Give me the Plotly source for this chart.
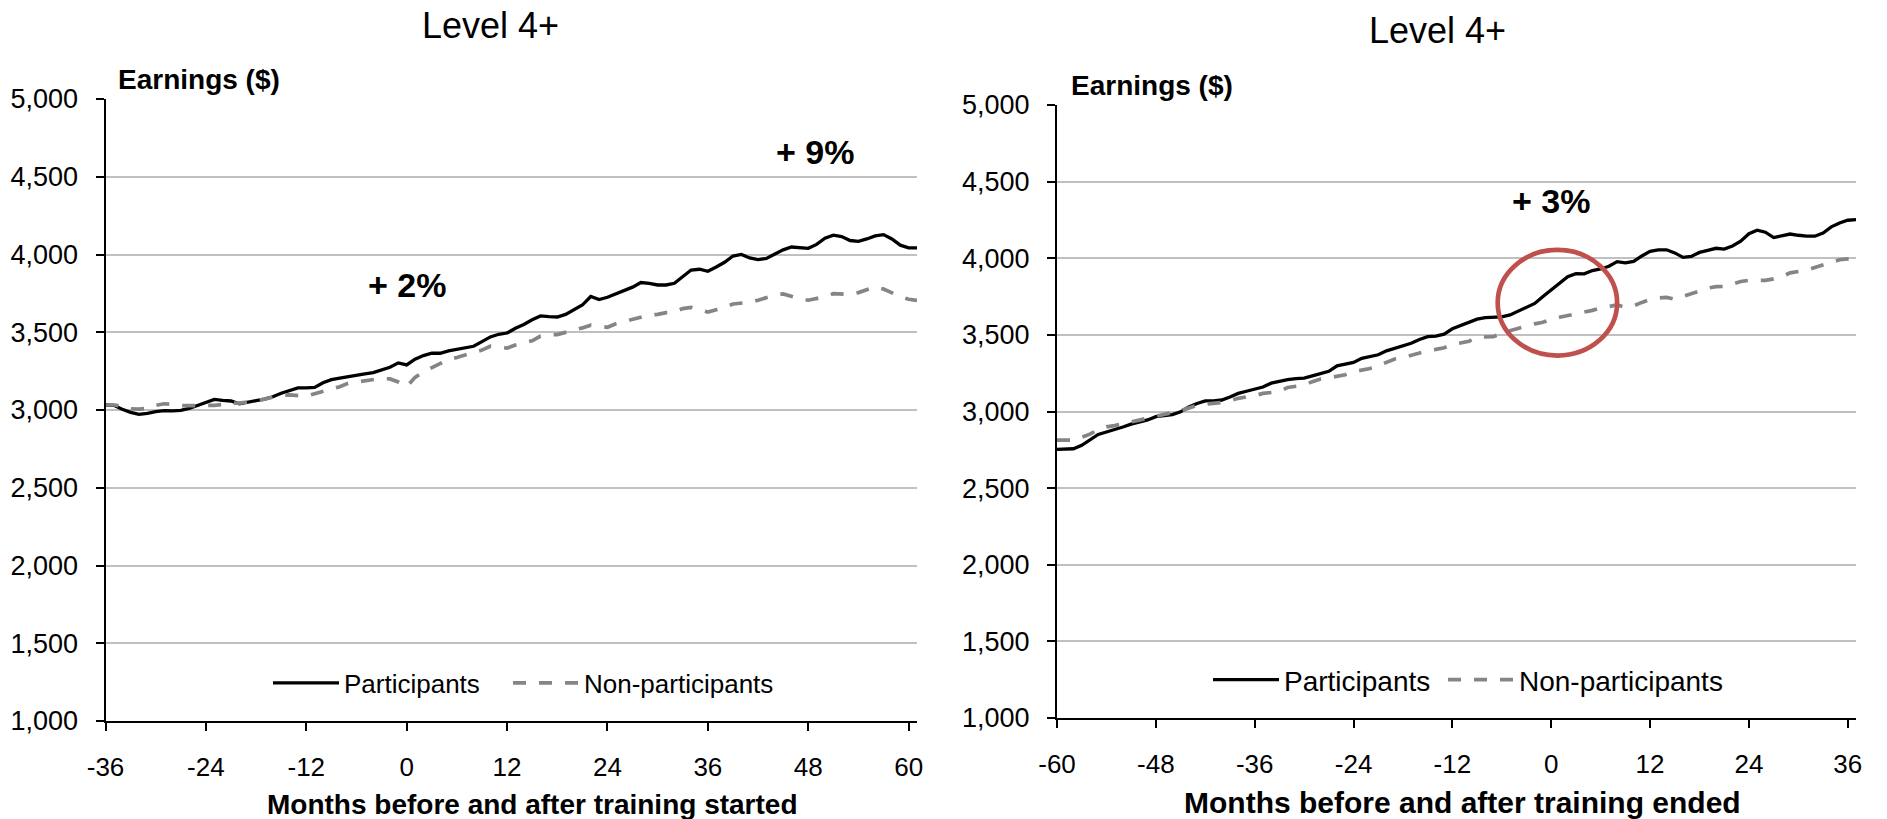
import plotly.graph_objects as go

# ---------------- data ----------------
MONTHS_START = list(range(-36, 62))   # months before/after training started
MONTHS_END = list(range(-60, 38))     # months before/after training ended

LEFT_PARTICIPANTS = [
    3032, 3030, 3005, 2985, 2972, 2978, 2990, 2996, 2995, 2998,
    3010, 3028, 3045, 3068, 3062, 3058, 3040, 3048, 3060, 3070,
    3085, 3108, 3125, 3142, 3142, 3145, 3175, 3195, 3205, 3215,
    3227, 3232, 3240, 3255, 3275, 3303, 3290, 3327, 3350, 3365,
    3365, 3380, 3390, 3397, 3410, 3440, 3470, 3487, 3495, 3526,
    3550, 3580, 3605, 3600, 3598, 3615, 3645, 3675, 3730, 3710,
    3725, 3748, 3768, 3790, 3820, 3815, 3804, 3804, 3815, 3860,
    3900, 3905, 3892, 3920, 3950, 3990, 4000, 3978, 3967, 3975,
    4005, 4030, 4048, 4045, 4040, 4065, 4105, 4124, 4115, 4090,
    4085, 4100, 4120, 4128, 4100, 4060, 4043, 4043,
]
LEFT_NON_PARTICIPANTS = [
    3032, 3032, 3025, 3008, 3006, 3010, 3030, 3040, 3036, 3028,
    3028, 3028, 3030, 3030, 3035, 3044, 3044, 3050, 3059, 3070,
    3080, 3095, 3097, 3095, 3088, 3105, 3120, 3133, 3150, 3172,
    3180, 3190, 3199, 3203, 3200, 3180, 3150, 3210, 3245, 3270,
    3300, 3325, 3338, 3355, 3368, 3385, 3410, 3402, 3398, 3418,
    3430, 3445, 3475, 3483, 3485, 3498, 3515, 3528, 3545, 3540,
    3532, 3555, 3570, 3585, 3600, 3611, 3615, 3626, 3630, 3652,
    3660, 3648, 3630, 3645, 3660, 3682, 3688, 3693, 3706, 3722,
    3739, 3746, 3728, 3715, 3706, 3715, 3728, 3748, 3745, 3743,
    3755, 3775, 3792, 3778, 3752, 3730, 3712, 3705,
]
RIGHT_PARTICIPANTS = [
    2753, 2753, 2757, 2779, 2815, 2850, 2866, 2880, 2899, 2918,
    2930, 2945, 2966, 2974, 2980, 2998, 3030, 3052, 3069, 3069,
    3075, 3095, 3118, 3132, 3145, 3160, 3185, 3198, 3208, 3215,
    3218, 3232, 3245, 3262, 3298, 3310, 3320, 3347, 3358, 3370,
    3396, 3412, 3425, 3445, 3470, 3488, 3492, 3505, 3540, 3562,
    3582, 3603, 3613, 3616, 3618, 3630, 3655, 3685, 3705, 3750,
    3795, 3840, 3880, 3900, 3898, 3920, 3930, 3948, 3978, 3970,
    3980, 4015, 4045, 4055, 4055, 4035, 4006, 4012, 4038, 4052,
    4065, 4060, 4080, 4111, 4160, 4183, 4170, 4135, 4145, 4158,
    4150, 4144, 4144, 4165, 4205, 4230, 4248, 4252,
]
RIGHT_NON_PARTICIPANTS = [
    2813, 2813, 2813, 2832, 2852, 2882, 2900, 2908, 2918, 2932,
    2944, 2957, 2968, 2980, 2992, 3005, 3022, 3040, 3049, 3051,
    3058, 3070, 3086, 3095, 3103, 3118, 3124, 3130, 3157, 3165,
    3172, 3195, 3212, 3220, 3230, 3240, 3259, 3270, 3281, 3299,
    3322, 3343, 3352, 3368, 3381, 3396, 3405, 3416, 3436, 3448,
    3458, 3485, 3487, 3488, 3513, 3528, 3542, 3562, 3572, 3582,
    3602, 3615, 3625, 3635, 3648, 3660, 3675, 3688, 3695, 3680,
    3690, 3712, 3730, 3740, 3745, 3732, 3750, 3772, 3790, 3805,
    3815, 3816, 3832, 3848, 3856, 3856, 3856, 3865, 3880, 3905,
    3912, 3922, 3940, 3958, 3978, 3990, 3996, 3998,
]

X_TICKS_LEFT = [-36, -24, -12, 0, 12, 24, 36, 48, 60]
X_TICKS_RIGHT = [-60, -48, -36, -24, -12, 0, 12, 24, 36]
Y_TICKS = [1000, 1500, 2000, 2500, 3000, 3500, 4000, 4500, 5000]

SERIES_NAMES = ["Participants", "Non-participants"]
PANEL_TITLE = "Level 4+"
Y_LABEL = "Earnings ($)"
X_TITLE_LEFT = "Months before and after training started"
X_TITLE_RIGHT = "Months before and after training ended"
CHANGE_LABELS = ["+ 2%", "+ 9%", "+ 3%"]

# ---------------- layout helpers ----------------
W, H = 1887, 819
FONT = "Liberation Sans, Arial, sans-serif"


def px(x):
    return x / W


def py(y):
    return 1 - y / H


BLACK = "#000000"
GREY = "#858585"
GRID = "#c0c0c0"
SOLID = dict(color=BLACK, width=3.3)
DASHED = dict(color=GREY, width=3.7, dash="13px,13px")

fig = go.Figure()

fig.add_trace(go.Scatter(x=MONTHS_START, y=LEFT_PARTICIPANTS, name=SERIES_NAMES[0],
                         mode="lines", line=SOLID, xaxis="x", yaxis="y", legend="legend"))
fig.add_trace(go.Scatter(x=MONTHS_START, y=LEFT_NON_PARTICIPANTS, name=SERIES_NAMES[1],
                         mode="lines", line=DASHED, xaxis="x", yaxis="y", legend="legend3"))
fig.add_trace(go.Scatter(x=MONTHS_END, y=RIGHT_PARTICIPANTS, name=SERIES_NAMES[0],
                         mode="lines", line=SOLID, xaxis="x2", yaxis="y2", legend="legend2"))
fig.add_trace(go.Scatter(x=MONTHS_END, y=RIGHT_NON_PARTICIPANTS, name=SERIES_NAMES[1],
                         mode="lines", line=DASHED, xaxis="x2", yaxis="y2", legend="legend4"))

common_x = dict(showline=True, linecolor=BLACK, linewidth=2, ticks="outside", ticklen=8,
                tickwidth=2, tickcolor=BLACK, showgrid=False, zeroline=False,
                tickfont=dict(family=FONT, size=26, color=BLACK), tickmode="array",
                ticklabelstandoff=14, automargin=False)
common_y = dict(showline=True, linecolor=BLACK, linewidth=2, ticks="outside", ticklen=8,
                tickwidth=2, tickcolor=BLACK, showgrid=True, gridcolor=GRID, gridwidth=2,
                zeroline=False, tickfont=dict(family=FONT, size=27, color=BLACK),
                tickmode="array", tickvals=Y_TICKS,
                tickformat=",", range=[1000, 5000], ticklabelstandoff=12,
                automargin=False)


def legend_style(x, y, size):
    return dict(x=x, y=y, orientation="h", xanchor="left", yanchor="middle",
                font=dict(family=FONT, size=size, color=BLACK),
                bgcolor="rgba(0,0,0,0)", itemwidth=66)


fig.update_layout(
    width=W, height=H, autosize=False,
    margin=dict(l=0, r=0, t=0, b=0, pad=0, autoexpand=False),
    paper_bgcolor="white", plot_bgcolor="white",
    font=dict(family=FONT, color=BLACK),
    xaxis=dict(domain=[px(105.5), px(917)], range=[-36, 61], tickvals=X_TICKS_LEFT,
               ticktext=[str(v) for v in X_TICKS_LEFT], anchor="y", **common_x),
    yaxis=dict(domain=[py(721), py(99)], anchor="x", **common_y),
    xaxis2=dict(domain=[px(1057), px(1856)], range=[-60, 37], tickvals=X_TICKS_RIGHT,
                ticktext=[str(v) for v in X_TICKS_RIGHT], anchor="y2", **common_x),
    yaxis2=dict(domain=[py(718), py(105)], anchor="x2", **common_y),
    legend=legend_style(px(268), py(683), 26),
    legend3=legend_style(px(508), py(683), 26),
    legend2=legend_style(px(1208), py(680), 28),
    legend4=legend_style(px(1443), py(680), 28),
    showlegend=True,
)

annotations = [
    dict(text=PANEL_TITLE, x=px(490), y=py(25), font=dict(size=36)),
    dict(text=PANEL_TITLE, x=px(1437), y=py(31), font=dict(size=36)),
    dict(text="<b>" + Y_LABEL + "</b>", x=px(116), y=py(80), xanchor="left", font=dict(size=28)),
    dict(text="<b>" + Y_LABEL + "</b>", x=px(1069), y=py(86), xanchor="left", font=dict(size=28)),
    dict(text="<b>" + X_TITLE_LEFT + "</b>", x=px(532), y=py(804), font=dict(size=28)),
    dict(text="<b>" + X_TITLE_RIGHT + "</b>", x=px(1462), y=py(802), font=dict(size=30)),
]
for a in annotations:
    a.update(xref="paper", yref="paper", showarrow=False, yanchor="middle")
    a.setdefault("xanchor", "center")
    a["font"].update(family=FONT, color=BLACK)
    fig.add_annotation(**a)

# change labels placed in data coordinates of each panel
CHANGE_POS = [("x", "y", 0.0, 3804), ("x", "y", 48.8, 4659), ("x2", "y2", 0.0, 4374)]
for label, (xr, yr, xv, yv) in zip(CHANGE_LABELS, CHANGE_POS):
    fig.add_annotation(text="<b>" + label + "</b>", x=xv, y=yv, xref=xr, yref=yr,
                       showarrow=False, xanchor="center", yanchor="middle",
                       font=dict(family=FONT, size=34, color=BLACK))

# red highlight ellipse on the right panel
fig.add_shape(type="circle", xref="x2", yref="y2", x0=-6.5, x1=8.0, y0=3365, y1=4054,
              line=dict(color="#C0504D", width=4.7), layer="above")

fig.write_html("out.html", config={"displayModeBar": False},
               post_script="document.body.style.margin='0';")
